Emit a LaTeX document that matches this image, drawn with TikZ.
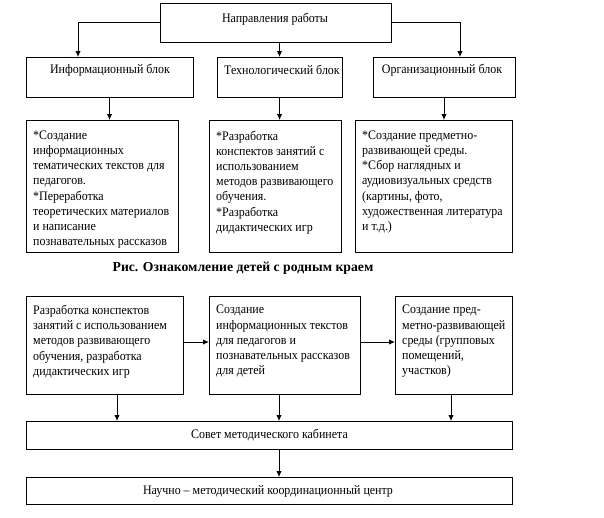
\documentclass[tikz,border=0pt]{standalone}
\usepackage{fontspec}
\setmainfont[FakeStretch=0.92]{Liberation Serif}
\newfontfamily\capfont{Liberation Serif}
\usetikzlibrary{arrows.meta}
\begin{document}
\begin{tikzpicture}[x=1pt,y=-1pt,
  box/.style={draw,line width=1pt,inner sep=0pt,outer sep=0pt,anchor=north west},
  txt/.style={anchor=north west,align=left,inner sep=0pt,font=\fontsize{13}{15.2}\selectfont},
  ctxt/.style={anchor=center,align=center,inner sep=0pt,font=\fontsize{13}{15.2}\selectfont},
  arr/.style={line width=1pt,-{Latex[length=6pt,width=5.5pt]}}]
\useasboundingbox (0,0) rectangle (604,517);
% boxes
\node[box,minimum width=231pt,minimum height=39pt] (top) at (160,3) {};
\node[box,minimum width=167pt,minimum height=40pt] (inf) at (26,57) {};
\node[box,minimum width=125pt,minimum height=40pt] (tech) at (217,57) {};
\node[box,minimum width=142pt,minimum height=40pt] (org) at (373,57) {};
\node[box,minimum width=152pt,minimum height=132pt] (d1) at (26,120) {};
\node[box,minimum width=132pt,minimum height=132pt] (d2) at (209,120) {};
\node[box,minimum width=157pt,minimum height=132pt] (d3) at (355,120) {};
\node[box,minimum width=157pt,minimum height=98pt] (A) at (26,296) {};
\node[box,minimum width=151pt,minimum height=98pt] (B) at (209,296) {};
\node[box,minimum width=117pt,minimum height=98pt] (C) at (395,296) {};
\node[box,minimum width=486pt,minimum height=28pt] (sov) at (26,421) {};
\node[box,minimum width=486pt,minimum height=27pt] (nmc) at (26,477) {};
% texts
\node[ctxt] (ttop) at (275,19) {Направления работы};
\node[ctxt] (tinf) at (110,70) {Информационный блок};
\node[ctxt] (ttech) at (282,70) {Технологический блок};
\node[ctxt] (torg) at (442,70) {Организационный блок};
\node[txt] (td1) at (33,130.5) {*Создание\\информационных\\тематических текстов для\\педагогов.\\*Переработка\\теоретических материалов\\и написание\\познавательных рассказов};
\node[txt] (td2) at (216,130.5) {*Разработка\\конспектов занятий с\\использованием\\методов развивающего\\обучения.\\*Разработка\\дидактических игр};
\node[txt] (td3) at (362,130.5) {*Создание предметно-\\развивающей среды.\\*Сбор наглядных и\\аудиовизуальных средств\\(картины, фото,\\художественная литература\\и т.д.)};
\node[ctxt,font=\capfont\fontsize{13.7}{16}\selectfont\bfseries] (cap) at (243,268) {Рис. Ознакомление детей с родным краем};
\node[txt] (tA) at (33,305) {Разработка конспектов\\занятий с использованием\\методов развивающего\\обучения, разработка\\дидактических игр};
\node[txt] (tB) at (216,305) {Создание\\информационных текстов\\для педагогов и\\познавательных рассказов\\для детей};
\node[txt] (tC) at (402,305) {Создание пред-\\метно-развивающей\\среды (групповых\\помещений,\\участков)};
\node[ctxt] (tsov) at (269.5,435.5) {Совет методического кабинета};
\node[ctxt] (tnmc) at (268,491) {Научно – методический координационный центр};
% connectors
\coordinate (inL) at (78,57);
\coordinate (orR) at (460,57);
\draw[arr] (top.west) -| (inL);
\draw[arr] (top.east) -| (orR);
\draw[arr] (tech.north |- top.south) -- (tech.north);
\draw[arr] (inf.south) -- (inf.south |- d1.north);
\draw[arr] (tech.south) -- (tech.south |- d2.north);
\draw[arr] (org.south) -- (org.south |- d3.north);
\draw[arr] ([yshift=3pt]A.east) -- ([yshift=3pt]A.east -| B.west);
\draw[arr] ([yshift=3pt]B.east) -- ([yshift=3pt]B.east -| C.west);
\draw[arr] ([xshift=12.5pt]A.south) -- ([xshift=12.5pt]A.south |- sov.north);
\draw[arr] ([xshift=-5.5pt]B.south) -- ([xshift=-5.5pt]B.south |- sov.north);
\draw[arr] ([xshift=-2.5pt]C.south) -- ([xshift=-2.5pt]C.south |- sov.north);
\draw[arr] ([xshift=10pt]sov.south) -- ([xshift=10pt]sov.south |- nmc.north);
\end{tikzpicture}
\end{document}
